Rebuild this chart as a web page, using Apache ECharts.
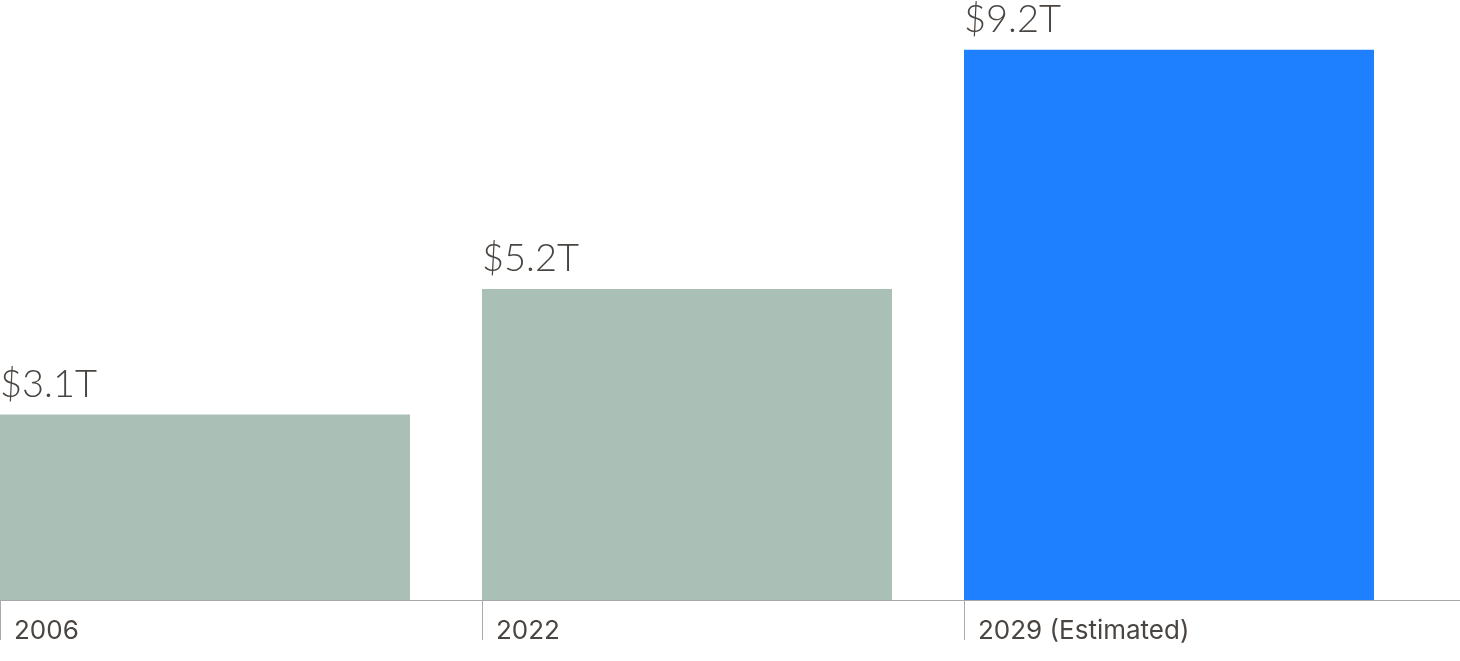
<!DOCTYPE html>
<html><head><meta charset="utf-8">
<script src="https://cdn.jsdelivr.net/npm/echarts@6/dist/echarts.min.js"></script>
<style>html,body{margin:0;padding:0;background:#fff}#c{width:1460px;height:661px}</style>
</head><body><div id="c"></div>
<script>
const categories = ['2006', '2022', '2029 (Estimated)'];
const values = [3.1, 5.2, 9.2];
const valueLabels = ['$3.1T', '$5.2T', '$9.2T'];

const chart = echarts.init(document.getElementById('c'));
const axisCats = categories.concat(['']);
const textColor = '#4a4541';
chart.setOption({
  animation: false,
  grid: [
    {left: 0, width: 1446, top: 2, bottom: 61},
    {left: 0, right: 0, top: 2, bottom: 61}
  ],
  xAxis: [
    {
      type: 'category', gridIndex: 0, data: axisCats, boundaryGap: false,
      axisLine: {show: false},
      axisTick: {show: true, length: 40, interval: (i) => i < categories.length, lineStyle: {color: '#a8aaad', width: 1}},
      axisLabel: {interval: 0, align: 'left', padding: [0, 0, 0, 14], margin: 18,
        fontFamily: 'Inter', fontSize: 26, color: textColor}
    },
    {
      type: 'value', gridIndex: 1, min: 0, max: 1,
      axisLine: {show: true, lineStyle: {color: '#a3a8ad', width: 1}},
      axisTick: {show: false}, axisLabel: {show: false}, splitLine: {show: false}
    }
  ],
  yAxis: [
    {type: 'value', gridIndex: 0, min: 0, max: 10, show: false, splitLine: {show: false}},
    {type: 'value', gridIndex: 1, min: 0, max: 1, show: false, splitLine: {show: false}}
  ],
  series: [
    {type: 'bar', xAxisIndex: 0, yAxisIndex: 0, barWidth: 410, barGap: '0%',
     data: values.map(() => null), silent: true},
    {type: 'bar', xAxisIndex: 0, yAxisIndex: 0, barWidth: 410, barGap: '0%',
     data: values,
     itemStyle: {color: (p) => p.dataIndex === categories.length - 1 ? '#1e80ff' : '#aabfb6'},
     label: {show: true, position: [0, 0], align: 'left', verticalAlign: 'bottom', offset: [0, -10],
       formatter: (p) => valueLabels[p.dataIndex],
       fontFamily: 'Lato', fontWeight: 300, fontSize: 38, lineHeight: 40, color: textColor}
    }
  ]
});
</script></body></html>
